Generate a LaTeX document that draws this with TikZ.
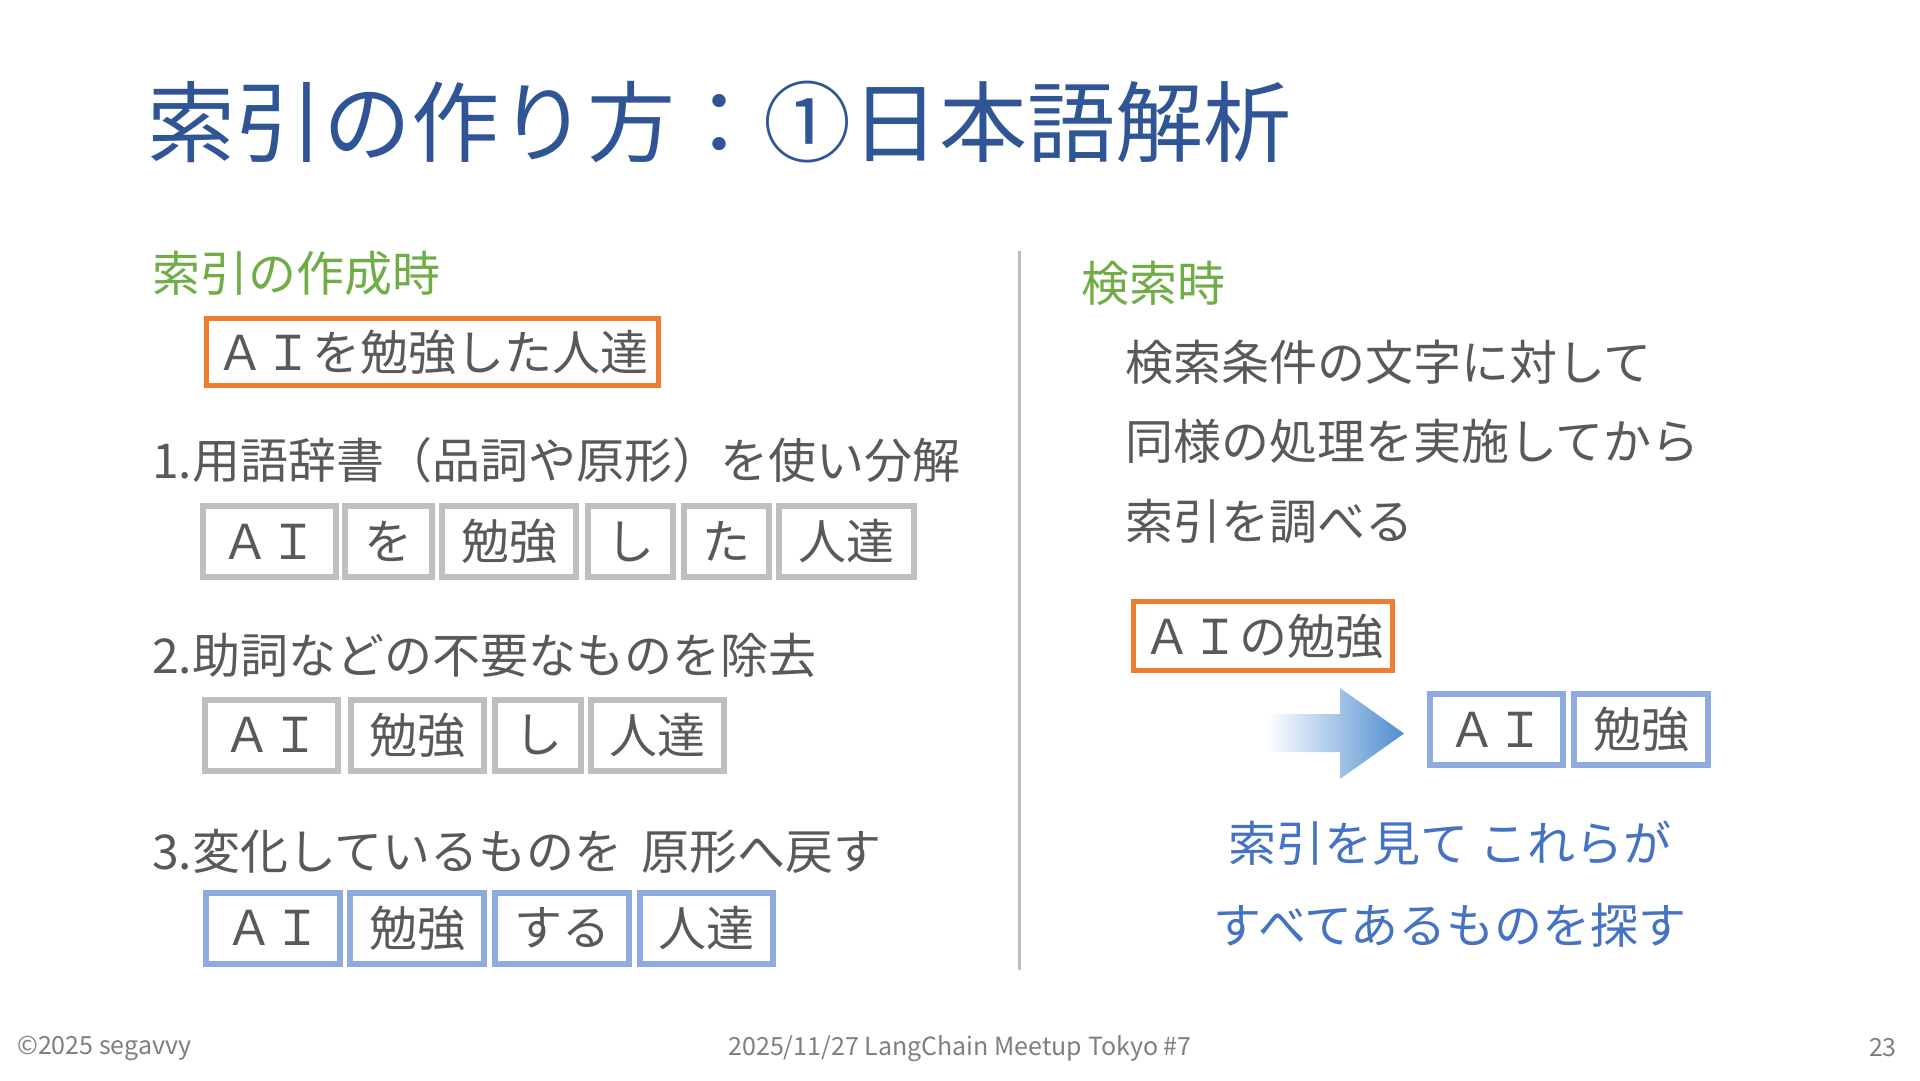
\documentclass[tikz,border=0pt]{standalone}
\usepackage{fontspec}
\setmainfont{Noto Sans CJK JP}
\definecolor{titleblue}{RGB}{47,85,151}
\definecolor{txtgrey}{RGB}{89,89,89}
\definecolor{boxgrey}{RGB}{191,191,191}
\definecolor{boxblue}{RGB}{143,170,220}
\definecolor{boxorange}{RGB}{237,125,49}
\definecolor{headgreen}{RGB}{112,173,71}
\definecolor{textblue}{RGB}{68,114,196}
\definecolor{arrowblue}{RGB}{79,141,206}
\definecolor{footgrey}{RGB}{127,127,127}
\tikzset{
  bodyfont/.style={font=\fontsize{48}{58}\selectfont},
  titletext/.style={font=\fontsize{88}{100}\selectfont, text=titleblue, inner sep=0pt},
  greenhead/.style={bodyfont, text=headgreen, inner sep=0pt},
  bodytext/.style={bodyfont, text=txtgrey, inner sep=0pt},
  bluetext/.style={bodyfont, text=textblue, inner sep=0pt},
  footer/.style={font=\fontsize{25}{30}\selectfont, text=footgrey, inner sep=0pt},
  tok/.style={draw, line width=6pt, bodyfont, text=txtgrey, inner sep=0pt, minimum height=71pt},
  greytok/.style={tok, draw=boxgrey},
  bluetok/.style={tok, draw=boxblue},
  orangebox/.style={draw=boxorange, line width=5pt, bodyfont, text=txtgrey, inner sep=0pt},
  divider/.style={draw=boxgrey, line width=3pt}
}
\begin{document}
\begin{tikzpicture}[x=1pt,y=-1pt]
\useasboundingbox[fill=white] (0,0) rectangle (1920,1080);
% title
\node[titletext, anchor=west] (title) at (147,122) {索引の作り方：①日本語解析};
% left column
\node[greenhead, anchor=west] (lefthead) at (152,273) {索引の作成時};
\node[orangebox, minimum width=452pt, minimum height=67pt] (src) at (432.5,352) {ＡＩを勉強した人達};
\node[bodytext, anchor=west] (step1) at (152,460) {1.用語辞書（品詞や原形）を使い分解};
\node[greytok, minimum width=133pt] (r1a) at (269.5,541.5) {ＡＩ};
\node[greytok, minimum width=87pt] (r1b) at (388.5,541.5) {を};
\node[greytok, minimum width=134pt] (r1c) at (509,541.5) {勉強};
\node[greytok, minimum width=85pt] (r1d) at (630.5,541.5) {し};
\node[greytok, minimum width=85pt] (r1e) at (726.5,541.5) {た};
\node[greytok, minimum width=135pt] (r1f) at (846.5,541.5) {人達};
\node[bodytext, anchor=west] (step2) at (152,655) {2.助詞などの不要なものを除去};
\node[greytok, minimum width=133pt] (r2a) at (271.5,735) {ＡＩ};
\node[greytok, minimum width=133pt] (r2b) at (417.5,735) {勉強};
\node[greytok, minimum width=86pt] (r2c) at (538,735) {し};
\node[greytok, minimum width=133pt] (r2d) at (657.5,735) {人達};
\node[bodytext, anchor=west] (step3) at (152,851) {3.変化しているものを\hspace{0.4em}原形へ戻す};
\node[bluetok, minimum width=134pt] (r3a) at (273,928) {ＡＩ};
\node[bluetok, minimum width=134pt] (r3b) at (417,928) {勉強};
\node[bluetok, minimum width=134pt] (r3c) at (562,928) {する};
\node[bluetok, minimum width=133pt] (r3d) at (706.5,928) {人達};
% divider
\coordinate (dtop) at (1019,251);
\coordinate (dbot) at (1019,970);
\draw[divider] (dtop) -- (dbot);
% right column
\node[greenhead, anchor=west] (righthead) at (1081,283) {検索時};
\node[bodytext, anchor=west] (q1) at (1125,362) {検索条件の文字に対して};
\node[bodytext, anchor=west] (q2) at (1125,441) {同様の処理を実施してから};
\node[bodytext, anchor=west] (q3) at (1125,521) {索引を調べる};
\node[orangebox, minimum width=259pt, minimum height=69pt] (query) at (1263,636) {ＡＩの勉強};
\shade[left color=white, right color=arrowblue]
  (1267,714) -- (1340,714) -- (1340,688) -- (1404,733.5) -- (1340,779) -- (1340,752) -- (1267,752) -- cycle;
\node[bluetok, minimum width=133pt] (qa) at (1496.5,729.5) {ＡＩ};
\node[bluetok, minimum width=134pt] (qb) at (1641,729.5) {勉強};
\node[bluetext] (res1) at (1450,843) {索引を見て これらが};
\node[bluetext] (res2) at (1450,925) {すべてあるものを探す};
% footer
\node[footer, anchor=west] (copy) at (17,1048) {©2025 segavvy};
\node[footer] (event) at (960,1049) {2025/11/27 LangChain Meetup Tokyo \#7};
\node[footer, anchor=east] (page) at (1897,1048) {23};
\end{tikzpicture}
\end{document}
